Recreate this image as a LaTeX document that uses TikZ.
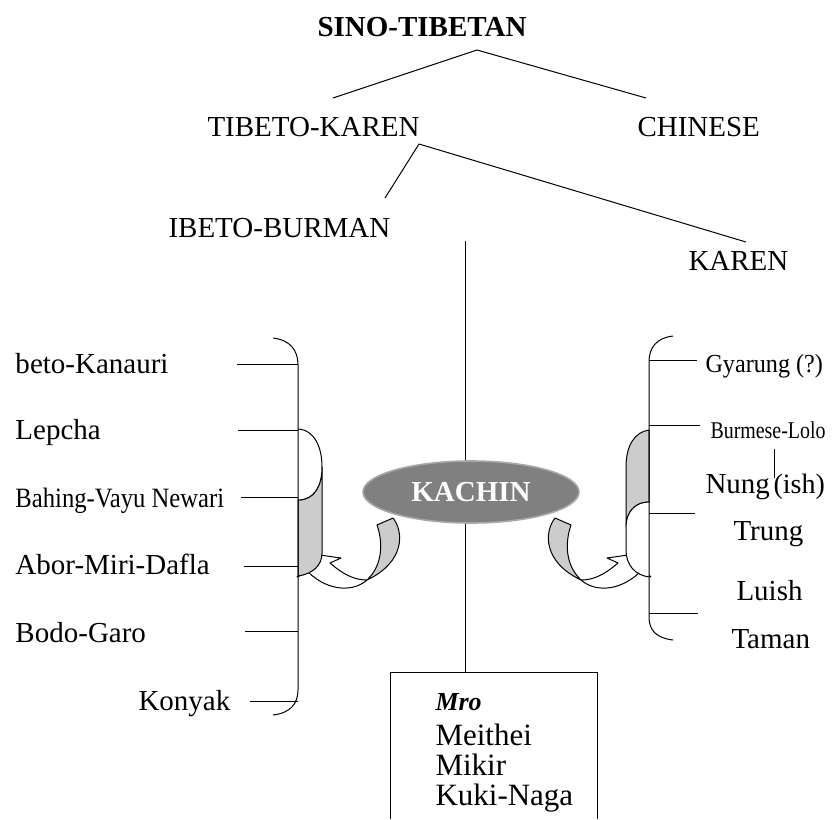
\documentclass[tikz,border=0pt]{standalone}
\usepackage{fontspec}
\setmainfont{Liberation Serif}
\usetikzlibrary{shapes.geometric}
\definecolor{bandgray}{HTML}{CCCCCC}
\definecolor{ovalgray}{HTML}{808080}
\definecolor{ovalrim}{HTML}{A8A8A8}
\tikzset{
  lbl/.style={inner sep=0pt, anchor=base west, font=\fontsize{29}{31}\selectfont},
  small/.style={inner sep=0pt, anchor=base west, font=\fontsize{#1}{#1}\selectfont},
  band/.style={fill=bandgray, draw=black},
  kachin/.style={ellipse, fill=ovalgray, draw=ovalrim, line width=1.6pt, minimum width=216pt,
    minimum height=62pt, inner sep=0pt, text=white, font=\fontsize{29}{31}\selectfont\bfseries},
}
\begin{document}
\begin{tikzpicture}[x=1pt, y=-1pt, line width=1pt, line join=round]
  \useasboundingbox (0,0) rectangle (834,819);
  \node[lbl, font=\fontsize{29}{31}\selectfont\bfseries] (st) at (317,36) {SINO-TIBETAN};
  \node[lbl] (tk) at (207,136) {TIBETO-KAREN};
  \node[lbl] (ch) at (637,136) {CHINESE};
  \node[lbl] (tb) at (168,237) {IBETO-BURMAN};
  \node[lbl] (kr) at (688,270) {KAREN};
  \coordinate (stA) at (477,50);
  \coordinate (tkA) at (419,144);
  \draw (333,98) -- (stA) -- (646,98);
  \draw (385,198) -- (tkA) -- (746,242);
  \draw (465,241) -- (465,672);
  \draw (390,819) -- (390,672) -- (597,672) -- (597,819);
  \node[small=26, font=\fontsize{26}{26}\selectfont\bfseries\itshape] (mro) at (435,710) {Mro};
  \node[small=31] (mei) at (435,745) {Meithei};
  \node[small=31] (mik) at (435,775) {Mikir};
  \node[small=31] (kuk) at (435,805) {Kuki-Naga};
  \begin{scope}
    \node[lbl] (l1) at (15,373) {beto-Kanauri};
    \node[lbl] (l2) at (15,439) {Lepcha};
    \node[small=28] (l3) at (15,507) {\scalebox{0.88}[1]{Bahing-Vayu Newari}};
    \node[lbl] (l4) at (15,574) {Abor-Miri-Dafla};
    \node[lbl] (l5) at (15,642) {Bodo-Garo};
    \node[lbl] (l6) at (138,710) {Konyak};
    \foreach \y/\x in {364/237,430/238,497/241,566/244,631/245,701/250}
      \draw (\x,\y) -- (298,\y);
    \draw[fill=white] (297,577) -- (320,555) -- (341,558) -- (330,563)
      .. controls (345,576) and (356,580) .. (367,580)
      .. controls (355,591) and (330,593) .. (308,572) -- cycle;
    \draw[band] (377,525) -- (393,518) .. controls (404,532) and (405,562) .. (367,580)
      .. controls (383,565) and (383,542) .. (377,525) -- cycle;
    \draw[band] (298,500) .. controls (315,500) and (322,485) .. (322,467) -- (322,553)
      .. controls (322,566) and (312,574) .. (298,576) -- cycle;
    \draw[fill=white] (298,429) .. controls (315,430) and (322,448) .. (322,467)
      .. controls (322,485) and (315,500) .. (298,500);
    \draw (273,338) .. controls (290,340) and (298,350) .. (298,365) -- (298,690)
      .. controls (298,704) and (290,713) .. (273,715);
  \end{scope}
  \begin{scope}
    \node[small=26] (r1) at (705,372) {\scalebox{0.93}[1]{Gyarung (?)}};
    \node[small=24] (r2) at (710,438) {\scalebox{0.83}[1]{Burmese-Lolo}};
    \node[lbl] (r3) at (705,493) {Nung};
    \node[small=28] (r3b) at (773,493) {(ish)};
    \node[lbl] (r4) at (733,540) {Trung};
    \node[lbl] (r5) at (736,600) {Luish};
    \node[lbl] (r6) at (731,648) {Taman};
    \draw (774,449) -- (774,478);
    \foreach \y/\x in {360/697,425/700,513/695,613/698}
      \draw (649,\y) -- (\x,\y);
    \begin{scope}[xshift=948pt, xscale=-1]
      \draw[fill=white] (297,577) -- (320,555) -- (341,558) -- (330,563)
        .. controls (345,576) and (356,580) .. (367,580)
        .. controls (355,591) and (330,593) .. (308,572) -- cycle;
      \draw[band] (377,525) -- (393,518) .. controls (404,532) and (405,562) .. (367,580)
        .. controls (383,565) and (383,542) .. (377,525) -- cycle;
    \end{scope}
    \draw[band] (649,430) .. controls (635,432) and (626,445) .. (626,467) -- (626,527)
      .. controls (626,512) and (635,502) .. (649,502) -- cycle;
    \draw[fill=white] (649,502) .. controls (635,502) and (626,512) .. (626,527) -- (626,550)
      .. controls (626,565) and (635,575) .. (649,577);
    \draw (673,336) .. controls (656,338) and (649,348) .. (649,362) -- (649,617)
      .. controls (649,630) and (656,638) .. (673,640);
  \end{scope}
  \node[kachin] (ka) at (471,492) {KACHIN};
\end{tikzpicture}
\end{document}
